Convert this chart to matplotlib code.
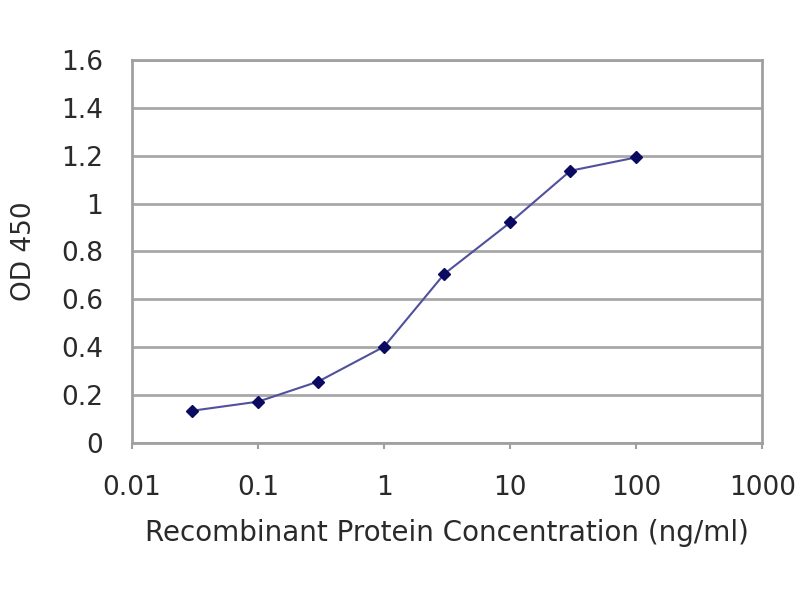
import matplotlib
matplotlib.use("Agg")
import matplotlib.pyplot as plt

# concentration (ng/ml) and OD 450 readings
conc = [0.03, 0.1, 0.3, 1, 3, 10, 30, 100]
od450 = [0.134, 0.172, 0.256, 0.402, 0.706, 0.921, 1.137, 1.193]

x_ticks = [0.01, 0.1, 1, 10, 100, 1000]
x_labels = ["0.01", "0.1", "1", "10", "100", "1000"]
y_ticks = [0, 0.2, 0.4, 0.6, 0.8, 1, 1.2, 1.4, 1.6]
y_labels = ["0", "0.2", "0.4", "0.6", "0.8", "1", "1.2", "1.4", "1.6"]

plt.rcParams['font.family'] = ['DejaVu Sans']

fig = plt.figure(figsize=(8, 6), dpi=100)
ax = fig.add_axes([0.165, 0.262, 0.788, 0.638])

ax.plot(conc, od450, color="#50509c", lw=1.5, marker="D", markersize=6,
        markerfacecolor="#0a0a60", markeredgecolor="#0a0a60", zorder=3)

ax.set_xscale("log")
ax.set_xlim(0.01, 1000)
ax.set_ylim(0, 1.6)
ax.set_xticks(x_ticks)
ax.set_xticklabels(x_labels)
ax.minorticks_off()
ax.set_yticks(y_ticks)
ax.set_yticklabels(y_labels)

ax.yaxis.grid(True, color="#a8a8a8", lw=2)
ax.set_axisbelow(True)
for s in ax.spines.values():
    s.set_color("#a0a0a0")
    s.set_linewidth(2)

ax.tick_params(axis="x", length=4, width=1.5, color="#a0a0a0", labelsize=19,
               colors="#2a2a2a", pad=19)
ax.tick_params(axis="y", length=0, labelsize=19, colors="#2a2a2a", pad=21)

ax.set_xlabel("Recombinant Protein Concentration (ng/ml)", fontsize=20,
              color="#2a2a2a", labelpad=13)
ax.set_ylabel("OD 450", fontsize=19, color="#2a2a2a", labelpad=17)

fig.savefig("out.png", dpi=100)
